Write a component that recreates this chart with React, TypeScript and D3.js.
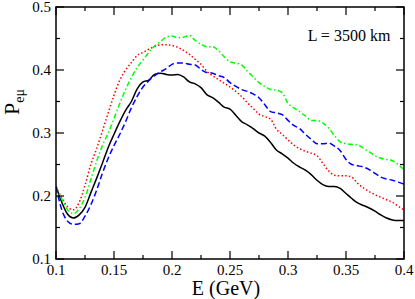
import React, {useEffect, useRef} from 'react'
import * as d3 from 'd3'

const width = 415
const height = 299
const margin = {top: 7, right: 11, bottom: 40, left: 56}
const innerWidth = width - margin.left - margin.right
const innerHeight = height - margin.top - margin.bottom

const energies = [
  0.1, 0.105, 0.11, 0.115, 0.12, 0.125, 0.13, 0.135, 0.14, 0.145,
  0.15, 0.155, 0.16, 0.165, 0.17, 0.175, 0.18, 0.185, 0.19, 0.195,
  0.2, 0.205, 0.21, 0.215, 0.22, 0.225, 0.23, 0.235, 0.24, 0.245,
  0.25, 0.255, 0.26, 0.265, 0.27, 0.275, 0.28, 0.285, 0.29, 0.295,
  0.3, 0.305, 0.31, 0.315, 0.32, 0.325, 0.33, 0.335, 0.34, 0.345,
  0.35, 0.355, 0.36, 0.365, 0.37, 0.375, 0.38, 0.385, 0.39, 0.395, 0.4,
]

const blackP = [
  0.215, 0.19, 0.171, 0.165, 0.17, 0.182, 0.205, 0.228, 0.252, 0.277,
  0.298, 0.318, 0.336, 0.35, 0.37, 0.381, 0.384, 0.393, 0.395, 0.393,
  0.392, 0.393, 0.389, 0.381, 0.378, 0.372, 0.361, 0.356, 0.349, 0.341,
  0.338, 0.328, 0.318, 0.313, 0.307, 0.3, 0.295, 0.285, 0.273, 0.267,
  0.26, 0.252, 0.246, 0.241, 0.234, 0.225, 0.218, 0.215, 0.215, 0.212,
  0.204, 0.196, 0.189, 0.185, 0.181, 0.176, 0.17, 0.165, 0.162, 0.161, 0.161,
]

const redP = [
  0.215, 0.197, 0.183, 0.178, 0.19, 0.217, 0.25, 0.275, 0.303, 0.332,
  0.36, 0.384, 0.4, 0.412, 0.423, 0.428, 0.433, 0.437, 0.44, 0.44,
  0.439, 0.436, 0.431, 0.425, 0.417, 0.409, 0.398, 0.391, 0.385, 0.379,
  0.373, 0.366, 0.358, 0.348, 0.339, 0.33, 0.326, 0.322, 0.306, 0.298,
  0.289, 0.281, 0.275, 0.271, 0.268, 0.264, 0.252, 0.24, 0.233, 0.232,
  0.232, 0.23, 0.22, 0.213, 0.207, 0.202, 0.198, 0.194, 0.19, 0.184, 0.178,
]

const blueP = [
  0.215, 0.178, 0.16, 0.155, 0.156, 0.168, 0.186, 0.209, 0.236, 0.26,
  0.28, 0.298, 0.318, 0.34, 0.358, 0.373, 0.383, 0.391, 0.397, 0.402,
  0.409, 0.411, 0.411, 0.409, 0.408, 0.401, 0.396, 0.395, 0.391, 0.388,
  0.38, 0.374, 0.369, 0.366, 0.362, 0.356, 0.345, 0.334, 0.332, 0.329,
  0.32, 0.312, 0.307, 0.298, 0.29, 0.283, 0.283, 0.284, 0.279, 0.272,
  0.258, 0.25, 0.248, 0.246, 0.242, 0.236, 0.23, 0.227, 0.225, 0.222, 0.219,
]

const greenP = [
  0.215, 0.195, 0.178, 0.172, 0.18, 0.198, 0.226, 0.255, 0.28, 0.3,
  0.323, 0.347, 0.369, 0.388, 0.404, 0.416, 0.428, 0.438, 0.445, 0.452,
  0.454, 0.451, 0.452, 0.455, 0.447, 0.441, 0.437, 0.437, 0.431, 0.421,
  0.413, 0.411, 0.408, 0.398, 0.389, 0.38, 0.374, 0.369, 0.368, 0.364,
  0.347, 0.34, 0.334, 0.327, 0.32, 0.32, 0.316, 0.308, 0.296, 0.286,
  0.283, 0.282, 0.281, 0.276, 0.27, 0.264, 0.26, 0.258, 0.256, 0.25, 0.242,
]

const xTicks = [0.1, 0.15, 0.2, 0.25, 0.3, 0.35, 0.4]
const xMinor = [0.125, 0.175, 0.225, 0.275, 0.325, 0.375]
const yTicks = [0.1, 0.2, 0.3, 0.4, 0.5]
const yMinor = [0.15, 0.25, 0.35, 0.45]

const serif = "'Times New Roman', 'DejaVu Serif', serif"

const series = [
  {values: blackP, color: '#000000', dash: null},
  {values: redP, color: '#ff0000', dash: '1.5,2.2'},
  {values: greenP, color: '#00ff00', dash: '5,2.5,1.5,2.5'},
  {values: blueP, color: '#0000ff', dash: '6,3'},
]

const App = () => {
  const chartRef = useRef<SVGSVGElement>(null)

  useEffect(() => {
    drawChart()
  }, [])

  const drawChart = () => {
    const svg = d3.select(chartRef.current)
    svg.selectAll('*').remove()

    const x = d3.scaleLinear().domain([0.1, 0.4]).range([0, innerWidth])
    const y = d3.scaleLinear().domain([0.1, 0.5]).range([innerHeight, 0])

    const g = svg
      .append('g')
      .attr('transform', `translate(${margin.left},${margin.top})`)

    g.append('clipPath')
      .attr('id', 'plot-clip')
      .append('rect')
      .attr('width', innerWidth)
      .attr('height', innerHeight)

    const line = d3
      .line<number>()
      .x((d, i) => x(energies[i]))
      .y(d => y(d))
      .curve(d3.curveMonotoneX)

    series.forEach(s => {
      g.append('path')
        .attr('d', line(s.values))
        .attr('fill', 'none')
        .attr('stroke', s.color)
        .attr('stroke-width', 1.5)
        .attr('stroke-dasharray', s.dash)
        .attr('clip-path', 'url(#plot-clip)')
    })

    // ticks on all four sides, pointing inward
    const ticks = g.append('g').attr('stroke', '#000').attr('stroke-width', 1.2)
    const xt = [...xTicks.map(v => [v, 8]), ...xMinor.map(v => [v, 4])]
    xt.forEach(([v, len]) => {
      ticks.append('line').attr('x1', x(v)).attr('x2', x(v))
        .attr('y1', innerHeight).attr('y2', innerHeight - len)
      ticks.append('line').attr('x1', x(v)).attr('x2', x(v))
        .attr('y1', 0).attr('y2', len)
    })
    const yt = [...yTicks.map(v => [v, 8]), ...yMinor.map(v => [v, 4])]
    yt.forEach(([v, len]) => {
      ticks.append('line').attr('y1', y(v)).attr('y2', y(v))
        .attr('x1', 0).attr('x2', len)
      ticks.append('line').attr('y1', y(v)).attr('y2', y(v))
        .attr('x1', innerWidth).attr('x2', innerWidth - len)
    })

    g.append('rect')
      .attr('width', innerWidth)
      .attr('height', innerHeight)
      .attr('fill', 'none')
      .attr('stroke', '#000')
      .attr('stroke-width', 1.5)

    g.selectAll('.xlab')
      .data(xTicks)
      .enter()
      .append('text')
      .attr('x', d => x(d))
      .attr('y', innerHeight + 16)
      .attr('text-anchor', 'middle')
      .style('font-family', serif)
      .style('font-size', '15px')
      .text(d => String(d))

    g.selectAll('.ylab')
      .data(yTicks)
      .enter()
      .append('text')
      .attr('x', -5)
      .attr('y', d => y(d) + 5)
      .attr('text-anchor', 'end')
      .style('font-family', serif)
      .style('font-size', '15px')
      .text(d => String(d))

    g.append('text')
      .attr('x', innerWidth / 2 - 4)
      .attr('y', innerHeight + 36)
      .attr('text-anchor', 'middle')
      .style('font-family', serif)
      .style('font-size', '20px')
      .text('E (GeV)')

    g.append('text')
      .attr('x', 349 - margin.left)
      .attr('y', 41 - margin.top)
      .attr('text-anchor', 'middle')
      .style('font-family', serif)
      .style('font-size', '16px')
      .text('L = 3500 km')

    const ylab = svg
      .append('text')
      .attr('transform', `translate(19, 102) rotate(-90)`)
      .attr('text-anchor', 'middle')
      .style('font-family', serif)
      .style('font-size', '22px')
    ylab.append('tspan').text('P')
    ylab.append('tspan')
      .attr('dy', 5)
      .style('font-size', '14px')
      .text('eμ')
  }

  return (
    <svg
      ref={chartRef}
      width={width}
      height={height}
      style={{position: 'absolute', left: 0, top: 0, background: '#fff'}}
    ></svg>
  )
}

export default App
